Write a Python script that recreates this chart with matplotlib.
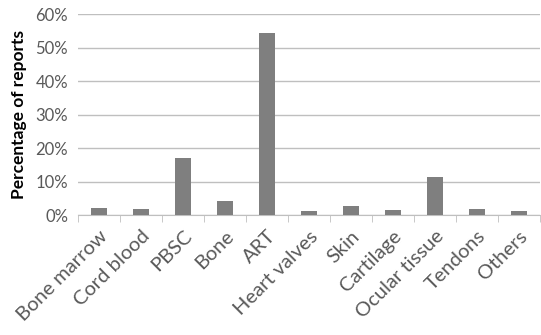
import numpy as np
import matplotlib.pyplot as plt
from matplotlib.ticker import PercentFormatter, FixedLocator

plt.rcParams['font.family'] = ['Lato', 'DejaVu Sans']

categories = ['Bone marrow', 'Cord blood', 'PBSC', 'Bone', 'ART', 'Heart valves',
              'Skin', 'Cartilage', 'Ocular tissue', 'Tendons', 'Others']
percentages = [2.2, 1.7, 17.1, 4.3, 54.3, 1.3, 2.8, 1.4, 11.4, 1.7, 1.3]

text_color = '#595959'
grid_color = '#bfbfbf'

fig = plt.figure(figsize=(5.41, 3.35), dpi=100)
ax = fig.add_axes([0.144, 0.358, 0.854, 0.6])

x = np.arange(len(categories))
ax.bar(x, percentages, width=0.38, color='#7f7f7f', zorder=3)

ax.set_xlim(-0.5, len(categories) - 0.5)
ax.set_ylim(0, 60)
ax.set_yticks(np.arange(0, 61, 10))
ax.yaxis.set_major_formatter(PercentFormatter(decimals=0))
ax.grid(axis='y', color=grid_color, linewidth=1, zorder=0)

ax.set_xticks(x)
ax.set_xticklabels(categories, rotation=45, ha='right', rotation_mode='anchor')
ax.xaxis.set_minor_locator(FixedLocator(np.arange(-0.5, len(categories), 1)))
ax.tick_params(axis='x', which='major', length=0, pad=9, labelsize=14.5, labelcolor=text_color)
ax.tick_params(axis='x', which='minor', length=5, color=grid_color)
ax.tick_params(axis='y', length=0, pad=7, labelsize=12, labelcolor=text_color)

for side in ['top', 'right', 'left']:
    ax.spines[side].set_visible(False)
ax.spines['bottom'].set_color(grid_color)

ax.set_ylabel('Percentage of reports', fontsize=12.5, fontweight='bold', color='black', labelpad=6)

fig.savefig('out.png', dpi=100)
